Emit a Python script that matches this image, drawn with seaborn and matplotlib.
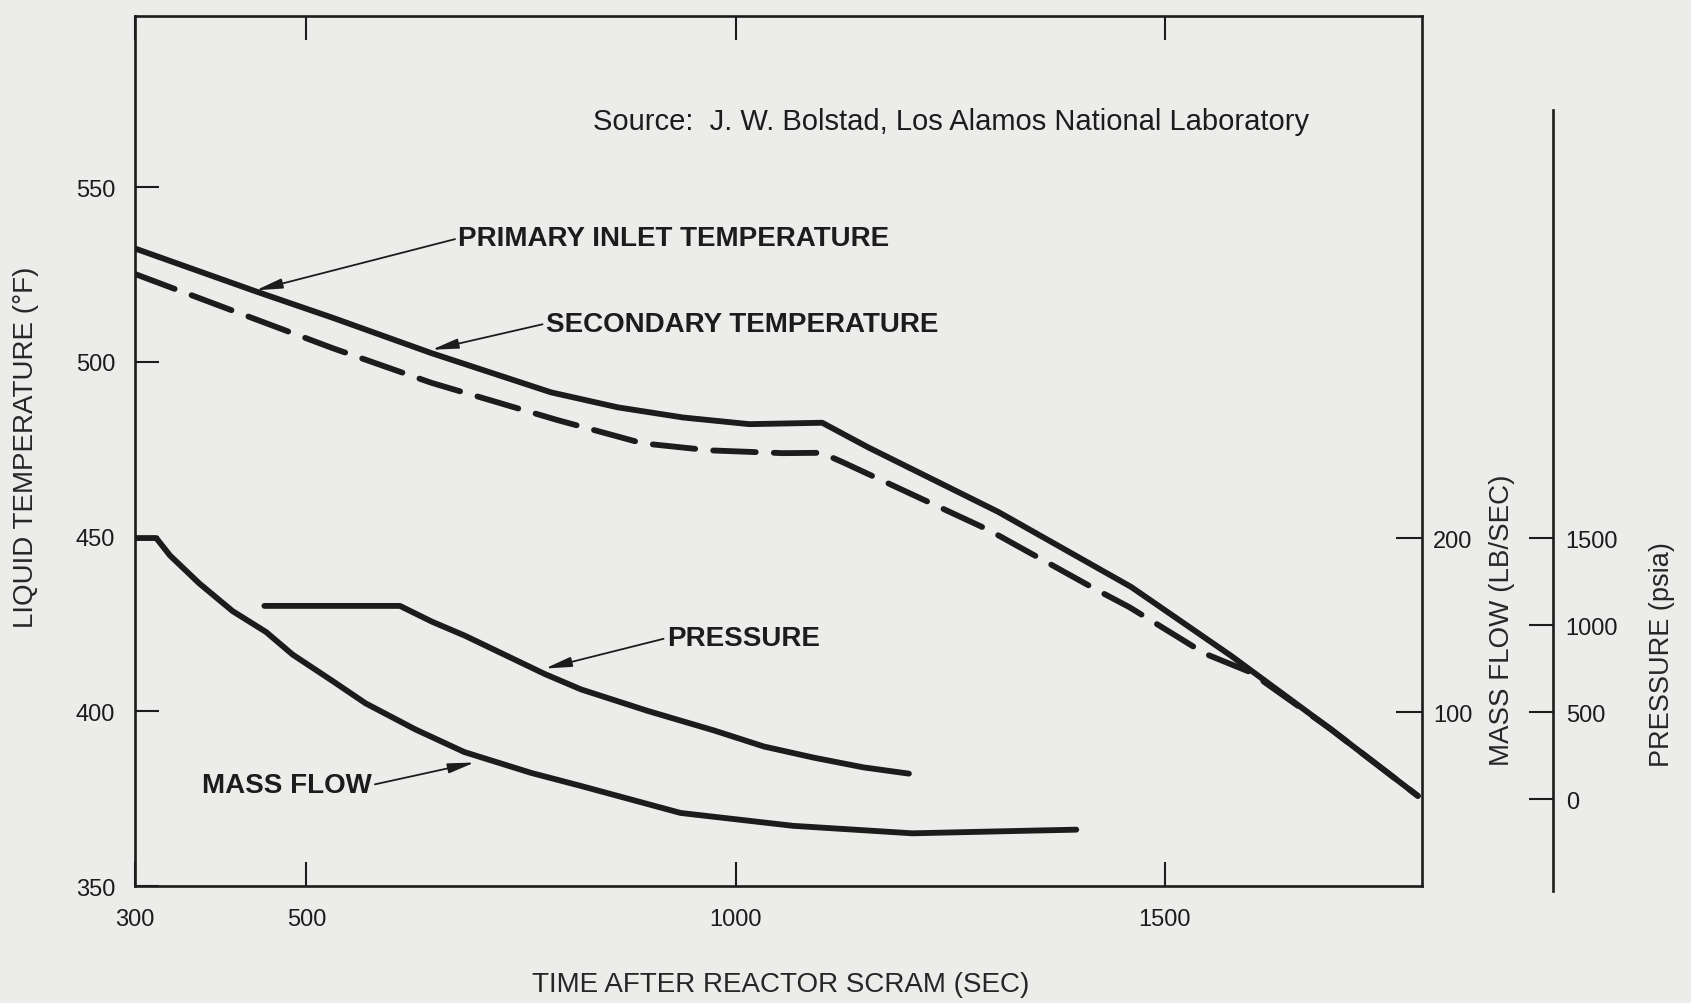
import pandas as pd
import seaborn as sns
import matplotlib.pyplot as plt

# values
time_primary = [300, 441, 530, 646, 785, 863, 939, 1016, 1101, 1155, 1306, 1461, 1578, 1693, 1795]
temp_primary = [532.5, 520.2, 512.7, 502.5, 491.3, 487.0, 484.1, 482.2, 482.6, 475.5, 457.1, 435.6, 415.8, 395.0, 375.8]

time_secondary = [300, 530, 646, 792, 892, 970, 1055, 1100, 1125, 1295, 1422, 1459, 1547, 1600, 1693, 1795]
temp_secondary = [525.2, 504.0, 494.0, 483.4, 476.7, 474.7, 473.9, 474.0, 471.3, 451.9, 434.6, 429.8, 416.5, 411.2, 395.0, 375.8]

time_flow = [300, 325, 341, 375, 414, 453, 484, 530, 569, 627, 684, 762, 820, 936, 1067, 1206, 1341, 1397]
mass_flow = [200, 200, 190, 174, 158, 146, 133, 118, 105, 90, 77, 65, 57.5, 42, 34.6, 30.3, 31.8, 32.4]

time_pressure = [451, 609, 646, 685, 778, 820, 898, 975, 1033, 1091, 1149, 1202]
pressure = [1110, 1110, 1020, 938, 718, 630, 506, 394, 302, 238, 182, 146]

x_ticks = [300, 500, 1000, 1500]
temp_ticks = [350, 400, 450, 500, 550]
flow_ticks = [100, 200]
pressure_ticks = [0, 500, 1000, 1500]

bg = '#ececea'
ink = '#1c1c1c'

sns.set_style('ticks')
plt.rcParams['font.family'] = ['Liberation Sans', 'DejaVu Sans']
plt.rcParams['text.color'] = ink
plt.rcParams['axes.edgecolor'] = ink

fig = plt.figure(figsize=(16.91, 10.04), dpi=100, facecolor=bg)
ax = fig.add_axes([0.0797, 0.1165, 0.7613, 0.8665])
ax.set_facecolor(bg)

df_primary = pd.DataFrame({'time': time_primary, 'temp': temp_primary})
df_secondary = pd.DataFrame({'time': time_secondary, 'temp': temp_secondary})
df_flow = pd.DataFrame({'time': time_flow, 'flow': mass_flow})
df_pressure = pd.DataFrame({'time': time_pressure, 'pressure': pressure})

lw = 4.2
sns.lineplot(data=df_primary, x='time', y='temp', ax=ax, color=ink, lw=lw, estimator=None)
sns.lineplot(data=df_secondary, x='time', y='temp', ax=ax, color=ink, lw=lw, estimator=None)
dash_line = ax.lines[-1]
dash_line.set_linestyle((0, (7.3, 3.1)))
dash_line.set_dash_capstyle('round')

ax.set_xlim(300, 1800)
ax.set_ylim(350, 599)
ax.set_xticks(x_ticks)
ax.set_yticks(temp_ticks)
ax.tick_params(axis='both', direction='in', length=17, width=1.5, color=ink,
               labelsize=17, labelcolor=ink)
ax.tick_params(axis='x', pad=16, top=True, labeltop=False)
ax.tick_params(axis='y', pad=14)
for s in ax.spines.values():
    s.set_linewidth(1.9)
ax.set_xlabel('TIME AFTER REACTOR SCRAM (SEC)', fontsize=20, va='center')
ax.set_ylabel('LIQUID TEMPERATURE (°F)', fontsize=20, va='center')
ax.xaxis.set_label_coords(0.502, -0.113)
ax.yaxis.set_label_coords(-0.0845, 0.505)

# mass flow axis on the frame's right edge
ax2 = ax.twinx()
sns.lineplot(data=df_flow, x='time', y='flow', ax=ax2, color=ink, lw=lw, estimator=None)
ax2.set_ylim(0, 500)
ax2.set_yticks(flow_ticks)
ax2.tick_params(axis='y', direction='in', length=19, width=1.5, color=ink,
                labelsize=17, labelcolor=ink, pad=8)
for s in ax2.spines.values():
    s.set_visible(False)
ax2.set_ylabel('MASS FLOW (LB/SEC)', fontsize=20, va='center')
ax2.yaxis.set_label_coords(1.0622, 0.307)

# pressure axis, detached to the right
ax3 = ax.twinx()
sns.lineplot(data=df_pressure, x='time', y='pressure', ax=ax3, color=ink, lw=lw, estimator=None)
ax3.set_ylim(-500, 4500)
ax3.set_yticks(pressure_ticks)
for name, s in ax3.spines.items():
    s.set_visible(name == 'right')
ax3.spines['right'].set_position(('axes', 1.1018))
ax3.spines['right'].set_bounds(-530, 3960)
ax3.spines['right'].set_linewidth(1.9)
ax3.tick_params(axis='y', direction='in', length=17, width=1.5, color=ink,
                labelsize=17, labelcolor=ink, pad=9)
ax3.set_ylabel('PRESSURE (psia)', fontsize=19.5, va='center')
ax3.yaxis.set_label_coords(1.1865, 0.267)

for a in (ax2, ax3):
    a.set_xlim(300, 1800)
    a.set_xlabel('')

arrow = dict(arrowstyle='-|>,head_length=0.8,head_width=0.15', color=ink, lw=1.3,
             mutation_scale=20, shrinkA=0, shrinkB=0)
lab = dict(fontsize=20, fontweight='bold', va='center')

ax.annotate('PRIMARY INLET TEMPERATURE', xy=(441, 520.5), xytext=(677, 535.4),
            ha='left', arrowprops=dict(arrow, relpos=(0, 0.5)), **lab)
ax.annotate('SECONDARY TEMPERATURE', xy=(646, 503.5), xytext=(779, 511),
            ha='left', arrowprops=dict(arrow, relpos=(0, 0.5)), **lab)
ax3.annotate('PRESSURE', xy=(778, 750), xytext=(920, 421), textcoords=ax.transData,
             ha='left', arrowprops=dict(arrow, relpos=(0, 0.5)), **lab)
ax2.annotate('MASS FLOW', xy=(696, 71), xytext=(576, 378.9), textcoords=ax.transData,
             ha='right', arrowprops=dict(arrow, relpos=(1, 0.5)), **lab)

ax.text(0.634, 0.879, 'Source:  J. W. Bolstad, Los Alamos National Laboratory',
        transform=ax.transAxes, ha='center', va='center', fontsize=21)

fig.savefig('out.png', dpi=100, facecolor=bg)
